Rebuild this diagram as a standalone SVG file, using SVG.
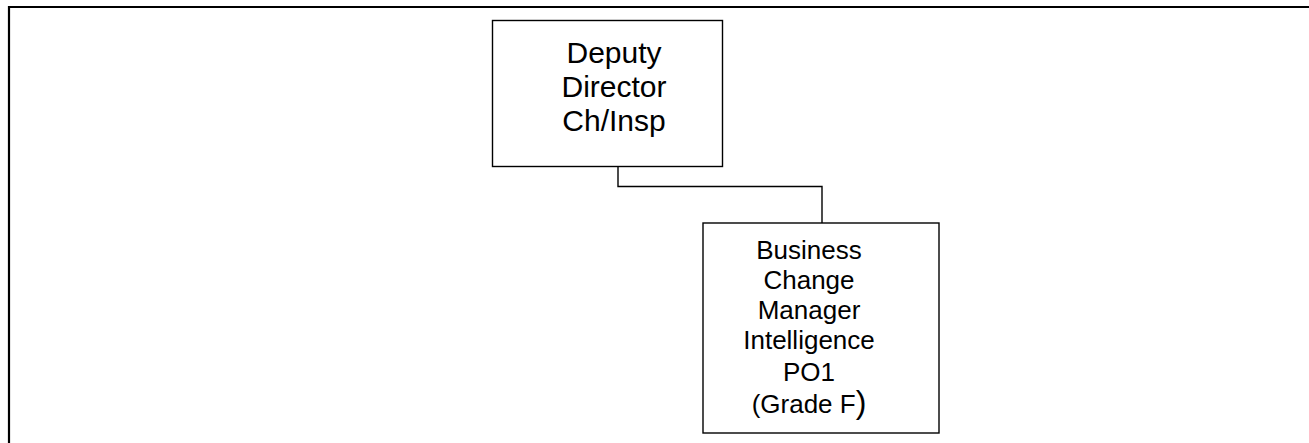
<svg xmlns="http://www.w3.org/2000/svg" width="1309" height="443" viewBox="0 0 1309 443">
<style>
.frame{fill:none;stroke:#000;stroke-width:2.2}
.box{fill:#fff;stroke:#000;stroke-width:1.4}
.conn{fill:none;stroke:#000;stroke-width:1.4}
.t1{font-family:"Liberation Sans",Arial,sans-serif;font-size:30px;text-anchor:middle;fill:#000}
.t2{font-family:"Liberation Sans",Arial,sans-serif;font-size:26px;text-anchor:middle;fill:#000}
</style>
<rect width="1309" height="443" fill="#fff"/>
<path class="frame" d="M9,443 V7 H1309"/>
<g id="connectors">
<path class="conn" d="M618,166.5 V186.5 H822 V223"/>
</g>
<g id="node-deputy-director">
<rect class="box" x="492.5" y="20.5" width="230" height="146"/>
<text class="t1" x="614" y="63">Deputy</text>
<text class="t1" x="614" y="97">Director</text>
<text class="t1" x="614" y="130.5">Ch/Insp</text>
</g>
<g id="node-business-change-manager">
<rect class="box" x="703" y="223" width="236" height="210"/>
<text class="t2" x="809" y="259">Business</text>
<text class="t2" x="809" y="289">Change</text>
<text class="t2" x="809" y="318.5">Manager</text>
<text class="t2" x="809" y="348.5">Intelligence</text>
<text class="t2" x="809" y="381">PO1</text>
<text class="t2" x="809" y="413">(Grade F<tspan font-size="32px">)</tspan></text>
</g>
</svg>
